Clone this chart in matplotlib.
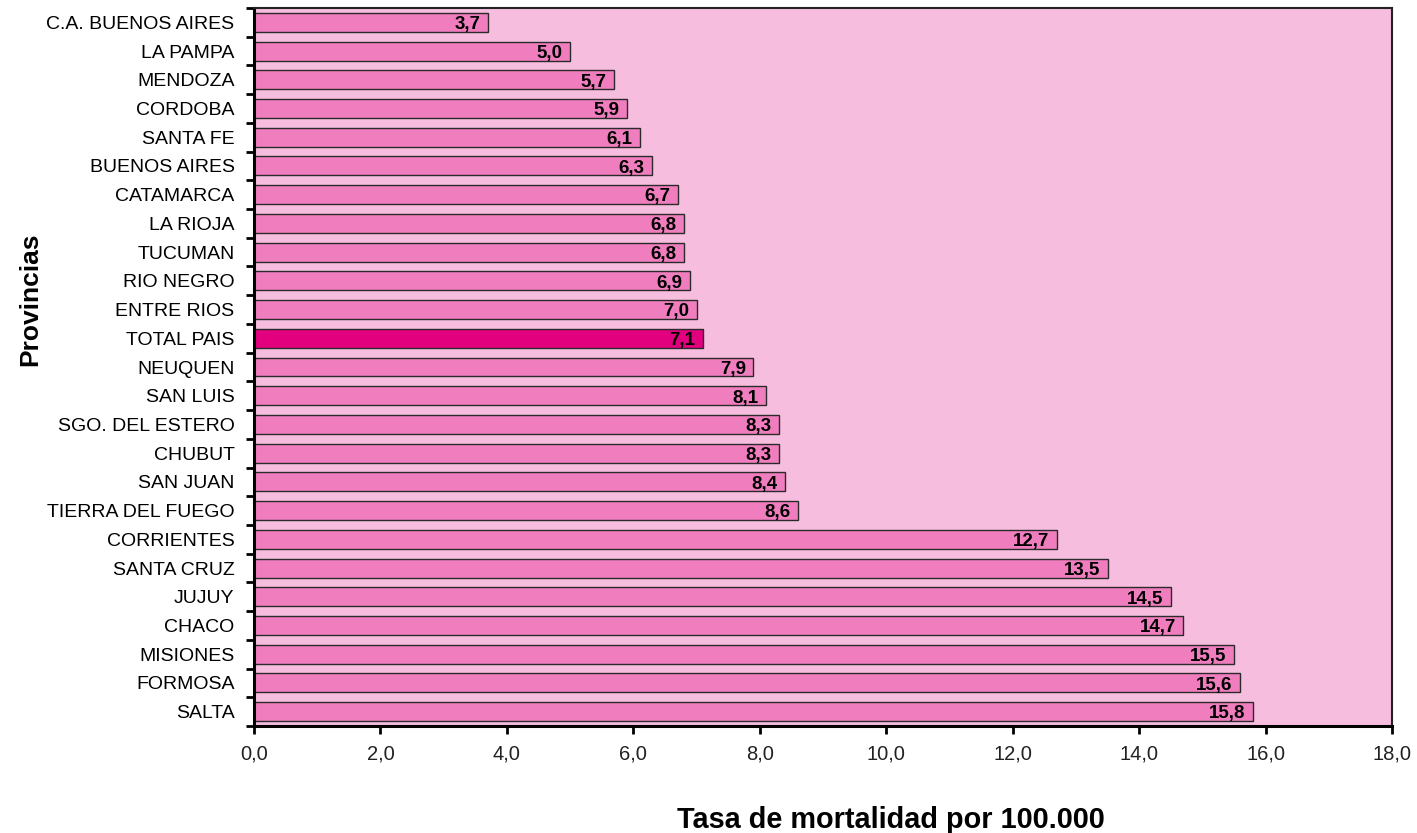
import matplotlib
matplotlib.use("Agg")
import matplotlib.pyplot as plt
import numpy as np

plt.rcParams['font.family'] = ['Liberation Sans', 'DejaVu Sans']

# Tasa de mortalidad por provincia (de arriba hacia abajo)
provincias = [
    "C.A. BUENOS AIRES", "LA PAMPA", "MENDOZA", "CORDOBA", "SANTA FE",
    "BUENOS AIRES", "CATAMARCA", "LA RIOJA", "TUCUMAN", "RIO NEGRO",
    "ENTRE RIOS", "TOTAL PAIS", "NEUQUEN", "SAN LUIS", "SGO. DEL ESTERO",
    "CHUBUT", "SAN JUAN", "TIERRA DEL FUEGO", "CORRIENTES", "SANTA CRUZ",
    "JUJUY", "CHACO", "MISIONES", "FORMOSA", "SALTA",
]
tasas = [3.7, 5.0, 5.7, 5.9, 6.1, 6.3, 6.7, 6.8, 6.8, 6.9, 7.0, 7.1, 7.9,
         8.1, 8.3, 8.3, 8.4, 8.6, 12.7, 13.5, 14.5, 14.7, 15.5, 15.6, 15.8]
x_ticks = [0, 2, 4, 6, 8, 10, 12, 14, 16, 18]

color_barra = "#F07EBE"
color_total = "#E2007F"
color_fondo = "#F6BDDF"

fig = plt.figure(figsize=(14.17, 8.33), dpi=100)
ax = fig.add_axes([254 / 1417, 1 - 726 / 833, (1392 - 254) / 1417, (726 - 8) / 833])
ax.set_facecolor(color_fondo)

y = np.arange(len(provincias))
colores = [color_total if p == "TOTAL PAIS" else color_barra for p in provincias]
ax.barh(y, tasas, height=0.66, color=colores, edgecolor="#2a2a2a", linewidth=1.0)

for yi, v in zip(y, tasas):
    ax.text(v - 0.12, yi + 0.08, f"{v:.1f}".replace(".", ","), ha="right", va="center",
            fontsize=13.5, fontweight="bold", color="black")

ax.set_xlim(0, 18)
ax.set_ylim(len(provincias) - 0.5, -0.5)

# etiquetas centradas, marcas entre categorias
ax.set_yticks(y)
ax.set_yticklabels(provincias, fontsize=14)
ax.set_yticks(np.arange(-0.5, len(provincias), 1.0), minor=True)
ax.tick_params(axis="y", which="major", length=0, pad=14)
ax.tick_params(axis="y", which="minor", length=6, width=2, direction="out", color="black")

ax.set_xticks(x_ticks)
ax.set_xticklabels([f"{t:.1f}".replace(".", ",") for t in x_ticks], fontsize=14.5, color="#222222")
ax.tick_params(axis="x", length=6, width=2, direction="out", pad=7)

for s in ["left", "bottom"]:
    ax.spines[s].set_linewidth(2.2)
for s in ["top", "right"]:
    ax.spines[s].set_linewidth(1.5)
    ax.spines[s].set_color("#222222")

fig.text(30 / 1417, 1 - 299 / 833, "Provincias", rotation=90, ha="center", va="center",
         fontsize=19, fontweight="bold")
fig.text(891 / 1417, 1 - 820 / 833, "Tasa de mortalidad por 100.000", ha="center", va="center",
         fontsize=20.8, fontweight="bold")

fig.savefig("out.png", dpi=100)
